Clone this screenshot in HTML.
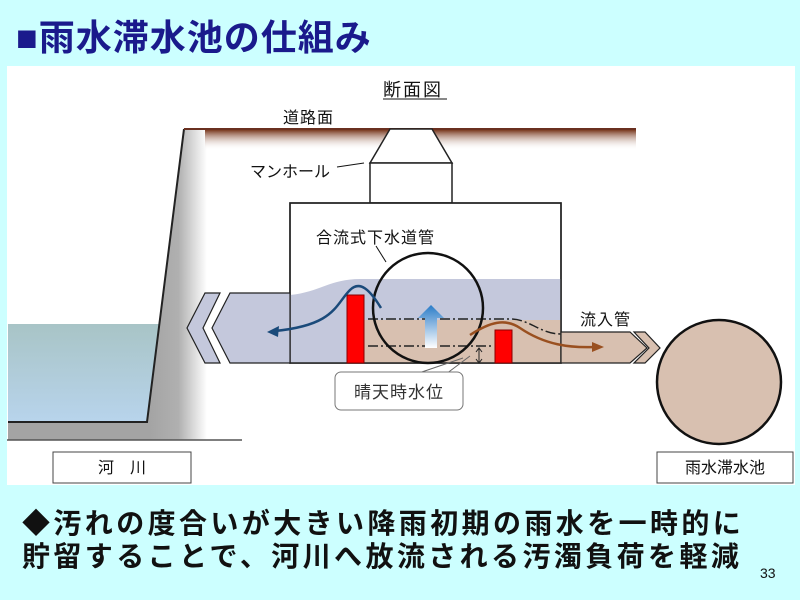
<!DOCTYPE html>
<html><head><meta charset="utf-8"><style>
body{margin:0;width:800px;height:600px;background:#ccffff;overflow:hidden;font-family:"Liberation Sans","Noto Sans CJK JP",sans-serif}
svg{position:absolute;left:0;top:0}
</style></head><body>
<svg width="800" height="600" xmlns="http://www.w3.org/2000/svg" font-family="Liberation Sans, Noto Sans CJK JP, sans-serif">
<defs>
<linearGradient id="road" x1="0" y1="0" x2="0" y2="1"><stop offset="0" stop-color="#7a3a20"/><stop offset="1" stop-color="#fff" stop-opacity="0"/></linearGradient>
<linearGradient id="wall" gradientUnits="userSpaceOnUse" x1="150" y1="0" x2="207" y2="0"><stop offset="0" stop-color="#a4a4a4"/><stop offset="0.5" stop-color="#b0b0b0"/><stop offset="1" stop-color="#fff"/></linearGradient>
<linearGradient id="river" x1="0" y1="0" x2="0" y2="1"><stop offset="0" stop-color="#a8c4c6"/><stop offset="1" stop-color="#b8d4ec"/></linearGradient>
<linearGradient id="up" x1="0" y1="0" x2="0" y2="1"><stop offset="0" stop-color="#2a7cc8"/><stop offset="1" stop-color="#fff"/></linearGradient>
</defs>
<rect x="7" y="66" width="788" height="419" fill="#fff"/>
<text x="16" y="50" font-size="36" font-weight="bold" fill="#1a1a8c" letter-spacing="1">■雨水滞水池の仕組み</text>
<!-- river / wall -->
<rect x="8" y="129" width="200" height="311" fill="url(#wall)"/>
<polygon points="8,129 184,129 159,324 8,324" fill="#fff"/>
<polygon points="8,324 159,324 147,422 8,422" fill="url(#river)"/>
<polyline points="8,422 147,422 184,129" fill="none" stroke="#222" stroke-width="2"/>
<line x1="7" y1="440" x2="242" y2="440" stroke="#555" stroke-width="1.5"/>
<!-- road -->
<rect x="205" y="130" width="431" height="20" fill="url(#road)"/>
<line x1="184" y1="129" x2="636" y2="129" stroke="#6a3020" stroke-width="2"/>
<!-- manhole -->
<polygon points="390,129 432,129 452,163 370,163" fill="#fff" stroke="#222" stroke-width="1.5"/>
<rect x="370" y="163" width="82" height="40" fill="#fff" stroke="#222" stroke-width="1.5"/>
<!-- box -->
<rect x="290" y="203" width="271" height="160" fill="#fff" stroke="#222" stroke-width="1.5"/>
<path d="M290,295 C320,292 330,279 360,279 L561,279 L561,363 L290,363 Z" fill="#c4c8dc"/>
<rect x="361" y="320" width="200" height="43" fill="#d8c0b0"/>
<rect x="290" y="203" width="271" height="160" fill="none" stroke="#222" stroke-width="1.5"/>
<!-- left pipe -->
<polygon points="230,293 290,293 290,363 230,363 212,328" fill="#c4c8dc" stroke="#222" stroke-width="1.2"/>
<polygon points="205,293 220,293 203,328 220,363 205,363 187,328" fill="#c4c8dc" stroke="#222" stroke-width="1.2"/>
<!-- right pipe -->
<polygon points="561,332 630,332 647,348 630,363 561,363" fill="#d8c0b0" stroke="#222" stroke-width="1.2"/>
<polygon points="634,332 645,332 660,348 645,363 634,363 649,348" fill="#d8c0b0" stroke="#222" stroke-width="1.2"/>
<!-- red bars -->
<rect x="347" y="295" width="17" height="68" fill="#f00" stroke="#800" stroke-width="1"/>
<rect x="495" y="330" width="17" height="33" fill="#f00" stroke="#800" stroke-width="1"/>
<!-- dash dot -->
<path d="M368,319 L510,319 C530,319 540,334 561,334" fill="none" stroke="#222" stroke-width="1.5" stroke-dasharray="10,3,2,3"/>
<line x1="368" y1="346" x2="493" y2="346" stroke="#222" stroke-width="1.5" stroke-dasharray="10,3,2,3"/>
<line x1="479" y1="349" x2="479" y2="362" stroke="#222" stroke-width="1"/>
<path d="M476,352 L479,348 L482,352 M476,359 L479,363 L482,359" fill="none" stroke="#222"/>
<!-- up arrow -->
<polygon points="431,305 444,318 437,318 437,348 425,348 425,318 418,318" fill="url(#up)"/>
<!-- circle -->
<circle cx="428" cy="308" r="55" fill="none" stroke="#111" stroke-width="2.5"/>
<!-- flows -->
<path d="M381,308 C370,290 360,280 350,290 C335,305 335,325 275,331" fill="none" stroke="#1a4a7a" stroke-width="2.5"/>
<polygon points="267,332 279,326 278,337" fill="#1a4a7a"/>
<path d="M470,335 C490,322 505,318 520,328 C545,345 570,348 595,347" fill="none" stroke="#9a5020" stroke-width="2.5"/>
<polygon points="604,347 592,342 592,352" fill="#9a5020"/>
<!-- tank -->
<circle cx="719" cy="382" r="62" fill="#d8c0b0" stroke="#111" stroke-width="2.5"/>
<!-- labels -->
<text x="383" y="96" font-size="18" fill="#111" letter-spacing="2">断面図</text>
<line x1="383" y1="99" x2="447" y2="99" stroke="#111"/>
<text x="283" y="123" font-size="16" fill="#111" letter-spacing="1">道路面</text>
<text x="250" y="177" font-size="16" fill="#111">マンホール</text>
<line x1="337" y1="167" x2="364" y2="163" stroke="#111"/>
<text x="316" y="243" font-size="16" fill="#111" letter-spacing="1">合流式下水道管</text>
<line x1="376" y1="246" x2="386" y2="262" stroke="#111"/>
<text x="580" y="325" font-size="16" fill="#111" letter-spacing="1">流入管</text>
<line x1="410" y1="376" x2="463" y2="358" stroke="#666"/>
<line x1="446" y1="374" x2="470" y2="356" stroke="#666"/>
<rect x="335" y="372" width="128" height="38" rx="6" fill="#fff" stroke="#777"/>
<text x="399" y="398" font-size="17" fill="#333" text-anchor="middle" letter-spacing="1">晴天時水位</text>
<rect x="53" y="452" width="138" height="31" fill="#fff" stroke="#444"/>
<text x="122" y="473" font-size="16" fill="#111" text-anchor="middle">河　川</text>
<rect x="657" y="452" width="136" height="31" fill="#fff" stroke="#444"/>
<text x="725" y="473" font-size="16" fill="#111" text-anchor="middle">雨水滞水池</text>
<text x="22" y="533" font-size="28" fill="#111" font-weight="bold" letter-spacing="3.4">◆汚れの度合いが大きい降雨初期の雨水を一時的に</text>
<text x="22" y="566" font-size="28" fill="#111" font-weight="bold" letter-spacing="3.4">貯留することで、河川へ放流される汚濁負荷を軽減</text>
<text x="760" y="578" font-size="14" fill="#111">33</text>
</svg>
</body></html>
